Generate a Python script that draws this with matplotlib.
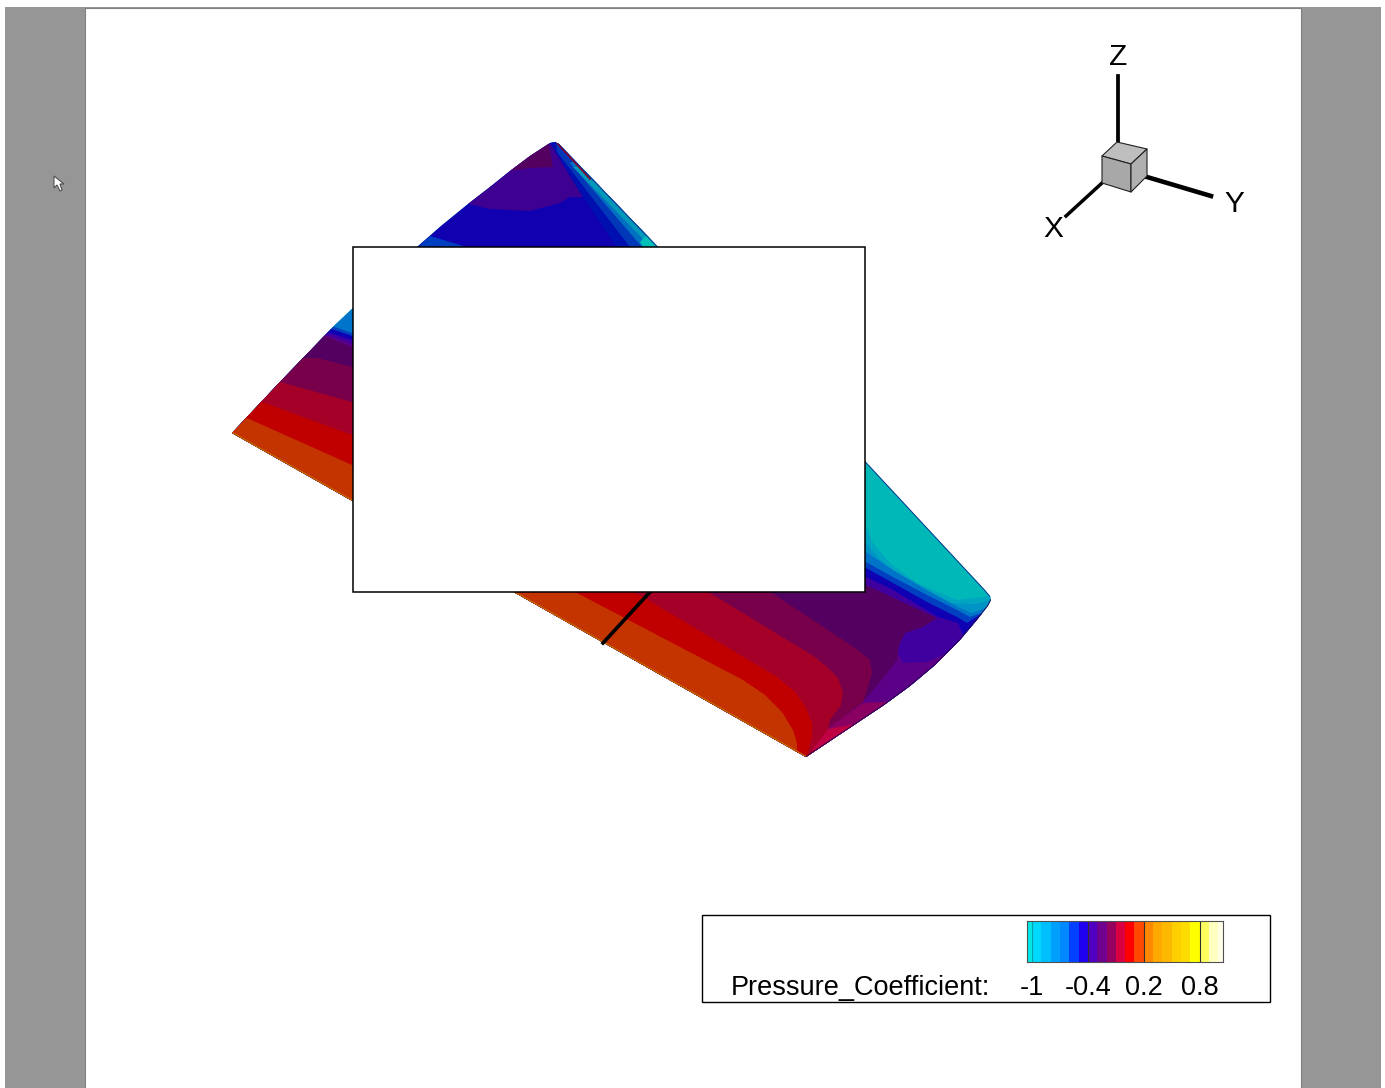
import matplotlib
matplotlib.use("Agg")
import matplotlib.pyplot as plt
from matplotlib.colors import ListedColormap, BoundaryNorm
from matplotlib.patches import Polygon, Rectangle

plt.rcParams['font.family'] = ['Liberation Sans', 'DejaVu Sans']

W, H = 1385, 1088

# colour scale
cp_levels = [-1.05, -1, -0.9, -0.8, -0.7, -0.6, -0.5, -0.4, -0.3, -0.2, -0.1, 0,
             0.1, 0.2, 0.3, 0.4, 0.5, 0.6, 0.7, 0.8, 0.9, 1.0, 1.05]
cp_colors = ['#00e8e8', '#00d8ff', '#00bfff', '#00a0ff', '#0088ff', '#0040ff', '#2000f0',
             '#5000c0', '#700090', '#980060', '#d80040', '#ff0000', '#ff4800', '#ff8800',
             '#ffa800', '#ffb800', '#ffd000', '#ffdc00', '#ffff00', '#ffff60', '#ffffc0',
             '#ffffe8']
cp_ticks = [-1, -0.4, 0.2, 0.8]
cp_tick_colors = ['#00a0a8', '#303030', '#303030', '#303030']
cp_tick_labels = ['-1', '-0.4', '0.2', '0.8']
cp_title = 'Pressure_Coefficient:'

# wing outline in pixels
tip_edge = [(991, 600), (988, 606), (976, 621), (960, 640), (935, 665), (910, 686),
            (884, 705), (857, 723), (830, 741), (806, 757)]
wing_outline = [(232, 433), (280, 382), (333, 327), (352, 309), (385, 277), (417, 247),
                (441, 226), (468, 204), (490, 187), (510, 171), (530, 156), (550, 143),
                (555, 142), (559, 144), (658, 247), (866, 462), (985, 590),
                (990, 596)] + tip_edge
trailing_edge = [(232, 433), (806, 757)]
leading_edge = [(559, 144), (658, 247), (866, 462), (985, 590), (990, 596)]
root_edge = [(557, 143), (590, 179)]
slice_line = [(603, 643), (650, 592)]

# contour bands, far side first: every band runs down to the trailing edge
below = [(830, 790), (200, 470)]
bands = [
    ('#00a6c0', [(352, 290), (866, 527), (873, 543), (890, 563), (917, 583), (957, 600), (983, 597), (996, 594)]),
    ('#0094c6', [(352, 295), (866, 543), (880, 560), (905, 580), (945, 603), (975, 604), (993, 600)]),
    ('#0074c8', [(320, 300), (352, 300), (866, 552), (893, 570), (927, 590), (960, 608), (972, 613), (990, 606)]),
    ('#0040c0', [(320, 322), (352, 333), (866, 562), (893, 577), (927, 595), (957, 610), (970, 617), (985, 612)]),
    ('#1000b4', [(320, 325), (352, 336), (866, 568), (893, 583), (927, 602), (957, 617), (967, 623), (985, 612)]),
    ('#4000a0', [(320, 330), (352, 340), (866, 577), (893, 590), (938, 617), (958, 623), (963, 635), (980, 630)]),
    ('#5c0088', [(320, 333), (352, 344), (890, 640), (903, 663), (927, 662), (950, 652), (980, 660)]),
    ('#540060', [(320, 334), (352, 347), (866, 585), (937, 618), (923, 627), (905, 633), (899, 645),
                 (897, 660), (880, 682), (863, 702), (828, 728)]),
    ('#8a0062', [(700, 640), (828, 728), (863, 703), (883, 702), (900, 700)]),
    ('#78004a', [(290, 350), (302, 358), (317, 358), (352, 367), (772, 593), (855, 648), (870, 660),
                 (872, 673), (867, 690), (863, 702), (828, 728)]),
    ('#c00044', [(700, 670), (828, 729), (850, 725), (870, 725)]),
    ('#a50028', [(270, 378), (280, 382), (352, 402), (710, 593), (815, 657), (827, 667), (838, 678),
                 (843, 692), (841, 705), (830, 720), (828, 729), (812, 750), (820, 760)]),
    ('#c00000', [(250, 397), (262, 402), (352, 435), (648, 600), (777, 677), (795, 692), (806, 708),
                 (812, 723), (812, 737), (808, 752), (815, 765)]),
    ('#c43400', [(235, 413), (247, 418), (352, 465), (577, 593), (743, 680), (765, 695), (782, 712),
                 (793, 730), (797, 743), (797, 752), (800, 770)]),
]

# patches on the far end of the wing, painted over the rest
top_bands = [
    ('#1000b0', [(400, 130), (600, 130), (700, 255), (400, 255)]),
    ('#0040c0', [(410, 255), (430, 236), (467, 247), (480, 255)]),
    ('#3d0090', [(450, 190), (468, 204), (490, 209), (530, 211), (560, 203), (570, 197), (583, 197),
                 (563, 165), (550, 143), (545, 130), (450, 130)]),
    ('#540060', [(500, 165), (510, 171), (530, 168), (553, 167), (550, 150), (546, 135), (500, 135)]),
    ('#0010b0', [(547, 130), (550, 142), (583, 197), (622, 255), (680, 255), (600, 130)]),
    ('#0038b8', [(557, 152), (630, 247), (636, 255), (680, 255), (600, 130), (555, 130)]),
    ('#0070c0', [(570, 163), (642, 247), (646, 255), (680, 255), (600, 150)]),
    ('#0098b8', [(573, 167), (642, 238), (648, 255), (680, 255), (590, 165)]),
    ('#00c0b8', [(640, 242), (648, 255), (680, 255), (650, 232)]),
]

cube_top = [(1102, 156), (1117, 142), (1147, 149), (1131, 164)]
cube_front = [(1102, 156), (1131, 164), (1131, 192), (1102, 183)]
cube_side = [(1131, 164), (1147, 149), (1147, 176), (1131, 192)]
arrow = [(54, 176), (54, 188), (57, 185), (60, 191), (62, 190), (60, 184), (64, 184)]


def xy(points):
    return [p[0] for p in points], [p[1] for p in points]


def draw_page(ax):
    ax.add_patch(Rectangle((5, 7), 1376, H, fc='#969696', ec='none', zorder=0))
    ax.add_patch(Rectangle((84.5, 7.5), 1216.5, H, fc='white', ec='#808080', lw=0.8, zorder=1))
    ax.add_patch(Polygon(arrow, fc='white', ec='#505050', lw=0.8, zorder=2))


def draw_wing(ax):
    wing = Polygon(wing_outline, fc='#00b8b8', ec='none', zorder=3)
    ax.add_patch(wing)
    for color, line in bands:
        p = Polygon(line + below, fc=color, ec='none', zorder=4)
        ax.add_patch(p)
        p.set_clip_path(wing)
    for color, shape in top_bands:
        p = Polygon(shape, fc=color, ec='none', zorder=5)
        ax.add_patch(p)
        p.set_clip_path(wing)
    for line, color, lw in [(trailing_edge, '#c07000', 1.6), (tip_edge, '#300050', 1.2),
                            (leading_edge, '#103090', 1.3), (root_edge, '#800030', 1.2)]:
        x, y = xy(line)
        l, = ax.plot(x, y, color=color, lw=lw, zorder=6)
        l.set_clip_path(wing)
    x, y = xy(slice_line)
    ax.plot(x, y, color='black', lw=2.6, zorder=7)


def draw_triad(ax):
    ax.plot([1118, 1118], [76, 143], color='black', lw=2.7, zorder=8)
    ax.plot([1147, 1211], [177, 196], color='black', lw=3.3, zorder=8)
    ax.plot([1102, 1066], [183, 216], color='black', lw=2.5, zorder=8)
    for shape, color in [(cube_top, '#bebebe'), (cube_front, '#a8a8a8'), (cube_side, '#b0b0b0')]:
        ax.add_patch(Polygon(shape, fc=color, ec='#202020', lw=0.8, joinstyle='round', zorder=9))
    for label, x, y in [('X', 1053, 229), ('Y', 1234, 204), ('Z', 1118, 57)]:
        ax.text(x, y, label, fontsize=21.5, ha='center', va='center', zorder=9)


def draw_legend(ax, fig):
    ax.add_patch(Rectangle((702, 915), 568, 87, fc='white', ec='black', lw=1, zorder=10))
    ax.text(731, 988, cp_title, fontsize=19.5, ha='left', va='center', zorder=11)
    cax = fig.add_axes([1027.3 / W, 1 - 962 / H, (1223 - 1027.3) / W, 41 / H], zorder=12)
    cmap = ListedColormap(cp_colors)
    norm = BoundaryNorm(cp_levels, cmap.N)
    mids = [(a + b) / 2 for a, b in zip(cp_levels[:-1], cp_levels[1:])]
    cax.pcolormesh(cp_levels, [0, 1], [mids], cmap=cmap, norm=norm)
    cax.vlines(cp_ticks, 0, 1, colors=cp_tick_colors, lw=0.8)
    cax.set_xlim(cp_levels[0], cp_levels[-1])
    cax.set_yticks([])
    cax.set_xticks(cp_ticks)
    cax.set_xticklabels(cp_tick_labels, fontsize=19.5)
    cax.tick_params(axis='x', length=0, pad=9.5)
    for s in cax.spines.values():
        s.set_color('#505050')
        s.set_linewidth(0.8)


fig = plt.figure(figsize=(W / 100, H / 100), dpi=100)
ax = fig.add_axes([0, 0, 1, 1])
ax.set_xlim(0, W)
ax.set_ylim(H, 0)
ax.axis('off')

draw_page(ax)
draw_wing(ax)
# empty white frame that sits on top of the wing
ax.add_patch(Rectangle((353, 247), 512, 345, fc='white', ec='black', lw=1.1, zorder=8))
draw_triad(ax)
draw_legend(ax, fig)

fig.savefig('out.png', dpi=100)
